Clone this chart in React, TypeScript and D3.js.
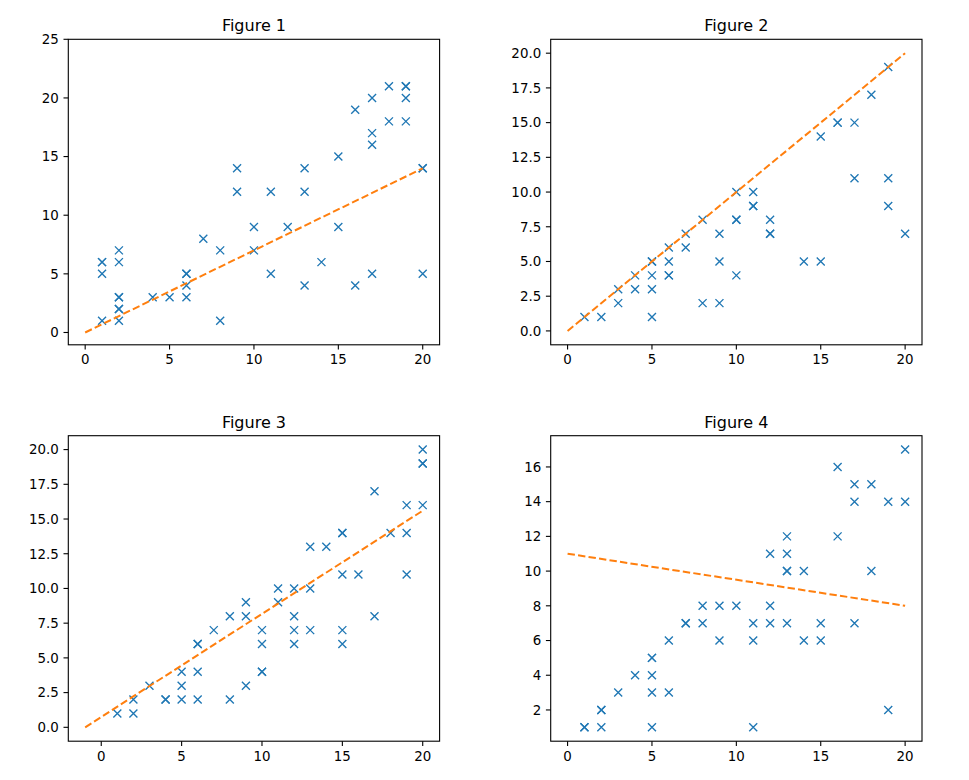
import * as d3 from "d3";

const W = 969;
const H = 780;

// Figure 1
const fig1X = [1, 1, 1, 1, 2, 2, 2, 2, 2, 2, 2, 4, 5, 6, 6, 6, 6, 7, 8, 8, 9, 9, 10, 10, 11, 11, 12, 13, 13, 13, 14, 15, 15, 16, 16, 17, 17, 17, 17, 18, 18, 19, 19, 19, 19, 20, 20, 20];
const fig1Y = [6, 6, 5, 1, 7, 6, 3, 3, 2, 2, 1, 3, 3, 5, 5, 4, 3, 8, 7, 1, 14, 12, 9, 7, 12, 5, 9, 14, 12, 4, 6, 15, 9, 19, 4, 20, 17, 16, 5, 21, 18, 21, 21, 20, 18, 14, 14, 5];
const fig1Fit = [[0, 0], [20, 14]];

// Figure 2
const fig2X = [1, 2, 3, 3, 4, 4, 5, 5, 5, 5, 5, 6, 6, 6, 6, 7, 7, 8, 8, 9, 9, 9, 10, 10, 10, 10, 11, 11, 11, 12, 12, 12, 14, 15, 15, 16, 16, 17, 17, 18, 19, 19, 19, 20];
const fig2Y = [1, 1, 3, 2, 4, 3, 5, 5, 4, 3, 1, 6, 5, 4, 4, 7, 6, 8, 2, 7, 5, 2, 10, 8, 8, 4, 10, 9, 9, 8, 7, 7, 5, 14, 5, 15, 15, 15, 11, 17, 19, 11, 9, 7];
const fig2Fit = [[0, 0], [20, 20]];

// Figure 3
const fig3X = [1, 2, 2, 3, 4, 4, 5, 5, 5, 6, 6, 6, 6, 7, 8, 8, 9, 9, 9, 10, 10, 10, 10, 11, 11, 12, 12, 12, 12, 13, 13, 13, 14, 15, 15, 15, 15, 15, 16, 17, 17, 18, 19, 19, 19, 20, 20, 20, 20];
const fig3Y = [1, 1, 2, 3, 2, 2, 2, 3, 4, 2, 4, 6, 6, 7, 2, 8, 3, 8, 9, 4, 4, 6, 7, 10, 9, 10, 8, 7, 6, 13, 10, 7, 13, 14, 14, 11, 7, 6, 11, 17, 8, 14, 16, 14, 11, 20, 19, 19, 16];
const fig3Fit = [[-1, 0], [20, 15.6]];

// Figure 4
const fig4X = [1, 1, 2, 2, 2, 3, 4, 5, 5, 5, 5, 5, 6, 6, 7, 7, 8, 8, 9, 9, 10, 11, 11, 11, 12, 12, 12, 13, 13, 13, 13, 13, 14, 14, 15, 15, 16, 16, 17, 17, 17, 18, 18, 19, 19, 20, 20];
const fig4Y = [1, 1, 1, 2, 2, 3, 4, 1, 3, 4, 5, 5, 3, 6, 7, 7, 7, 8, 6, 8, 8, 1, 6, 7, 7, 8, 11, 7, 10, 10, 11, 12, 6, 10, 6, 7, 12, 16, 7, 14, 15, 15, 10, 2, 14, 14, 17];
const fig4Fit = [[0, 11], [20, 8]];

const xTicks = [0, 5, 10, 15, 20];
const fig1YTicks = [0, 5, 10, 15, 20, 25];
const halfTicks = [0, 2.5, 5, 7.5, 10, 12.5, 15, 17.5, 20];
const fig4YTicks = [2, 4, 6, 8, 10, 12, 14, 16];

const cols = [68.3, 550.7];
const rows = [39.3, 435.7];
const aw = 371.3;
const ah = 305.5;

const panels = [
  { title: "Figure 1", xs: fig1X, ys: fig1Y, fit: fig1Fit, xd: [-1, 21], yd: [-1.05, 25], yt: fig1YTicks, fmt: d3.format("d"), col: 0, row: 0 },
  { title: "Figure 2", xs: fig2X, ys: fig2Y, fit: fig2Fit, xd: [-1, 21], yd: [-1, 21], yt: halfTicks, fmt: d3.format(".1f"), col: 1, row: 0 },
  { title: "Figure 3", xs: fig3X, ys: fig3Y, fit: fig3Fit, xd: [-2.05, 21.05], yd: [-1, 21], yt: halfTicks, fmt: d3.format(".1f"), col: 0, row: 1 },
  { title: "Figure 4", xs: fig4X, ys: fig4Y, fit: fig4Fit, xd: [-1, 21], yd: [0.2, 17.8], yt: fig4YTicks, fmt: d3.format("d"), col: 1, row: 1 },
];

const blue = "#1f77b4";
const orange = "#ff7f0e";
const font = "DejaVu Sans, sans-serif";

const Panel = ({ p }: { p: (typeof panels)[number] }) => {
  const left = cols[p.col];
  const top = rows[p.row];
  const x = d3.scaleLinear().domain(p.xd).range([left, left + aw]);
  const y = d3.scaleLinear().domain(p.yd).range([top + ah, top]);
  const line = d3
    .line<number[]>()
    .x((d) => x(d[0]))
    .y((d) => y(d[1]));
  const m = 4; // marker half size
  return (
    <g>
      <text x={left + aw / 2} y={top - 8} textAnchor="middle" fontSize={16} fontFamily={font}>
        {p.title}
      </text>
      <g clipPath={`url(#clip-${p.col}-${p.row})`}>
        {p.xs.map((xv, i) => {
          const cx = x(xv);
          const cy = y(p.ys[i]);
          return (
            <path
              key={i}
              d={`M${cx - m},${cy - m}L${cx + m},${cy + m}M${cx - m},${cy + m}L${cx + m},${cy - m}`}
              stroke={blue}
              strokeWidth={1.35}
              fill="none"
            />
          );
        })}
        <path d={line(p.fit) || ""} stroke={orange} strokeWidth={2} strokeDasharray="7.4,3.2" fill="none" />
      </g>
      <rect x={left} y={top} width={aw} height={ah} fill="none" stroke="#000" strokeWidth={1.1} />
      {xTicks.map((t) => (
        <g key={`x${t}`}>
          <line x1={x(t)} x2={x(t)} y1={top + ah} y2={top + ah + 4.8} stroke="#000" strokeWidth={1.1} />
          <text x={x(t)} y={top + ah + 19.5} textAnchor="middle" fontSize={13.4} fontFamily={font}>
            {t}
          </text>
        </g>
      ))}
      {p.yt.map((t) => (
        <g key={`y${t}`}>
          <line x1={left - 4.8} x2={left} y1={y(t)} y2={y(t)} stroke="#000" strokeWidth={1.1} />
          <text x={left - 9.5} y={y(t)} dy="0.36em" textAnchor="end" fontSize={13.4} fontFamily={font}>
            {p.fmt(t)}
          </text>
        </g>
      ))}
    </g>
  );
};

export default function App() {
  return (
    <>
      <style>{"body{margin:0}"}</style>
      <svg width={W} height={H} viewBox={`0 0 ${W} ${H}`} style={{ display: "block", background: "#fff" }}>
        <defs>
          {panels.map((p) => (
            <clipPath key={p.title} id={`clip-${p.col}-${p.row}`}>
              <rect x={cols[p.col]} y={rows[p.row]} width={aw} height={ah} />
            </clipPath>
          ))}
        </defs>
        {panels.map((p) => (
          <Panel key={p.title} p={p} />
        ))}
      </svg>
    </>
  );
}
